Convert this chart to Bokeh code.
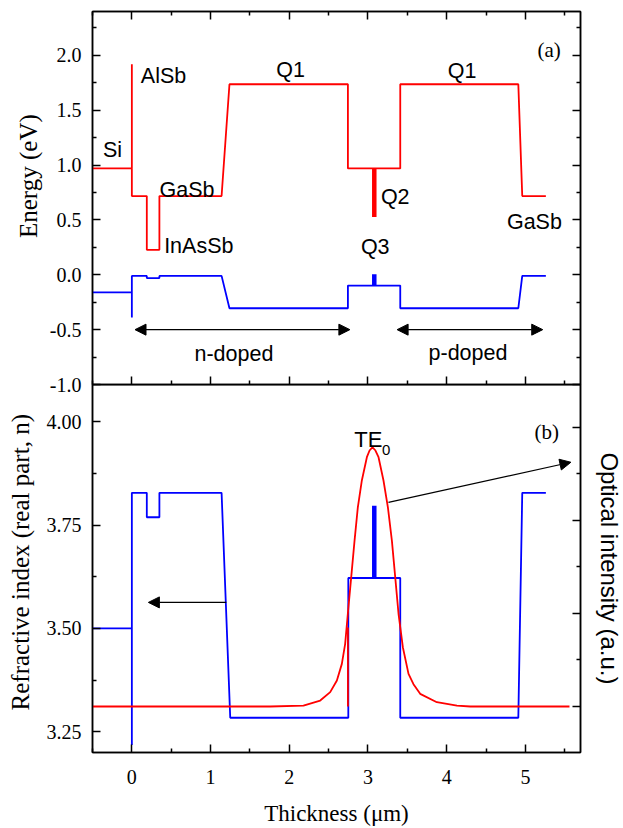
from bokeh.plotting import figure
from bokeh.layouts import column
from bokeh.models import (Range1d, LinearAxis, FixedTicker, PrintfTickFormatter,
                          Arrow, NormalHead, CustomLabelingPolicy)
from bokeh.core.properties import value
from bokeh.embed import file_html
from bokeh.resources import INLINE

# ---------------- data ----------------
# (a) band diagram: conduction band (red) and valence band (blue), thickness in um
band_x = [-0.5, 0.0, 0.0, 0.0, 0.19, 0.19, 0.35, 0.35, 1.14, 1.24, 2.745, 2.745, 3.41, 3.41, 4.91, 4.96, 5.26]
cb_E = [0.97, 0.97, 1.92, 0.718, 0.718, 0.228, 0.228, 0.718, 0.718, 1.737, 1.737, 0.97, 0.97, 1.737, 1.737, 0.718, 0.718]
vb_E = [-0.16, -0.16, -0.39, -0.01, -0.01, -0.03, -0.03, -0.01, -0.01, -0.305, -0.305, -0.098, -0.098, -0.305, -0.305, -0.01, -0.01]
q_x = [3.08, 3.08]
q2_E = [0.97, 0.527]
q3_E = [-0.098, 0.005]

# (b) refractive index (blue) and TE0 optical intensity (red)
n_x = [-0.5, 0.0, 0.0, 0.0, 0.19, 0.19, 0.35, 0.35, 1.14, 1.25, 2.75, 2.75, 3.41, 3.41, 4.91, 4.96, 5.26]
n_val = [3.50, 3.50, 3.218, 3.828, 3.828, 3.769, 3.769, 3.828, 3.828, 3.284, 3.284, 3.622, 3.622, 3.284, 3.284, 3.828, 3.828]
nq_x = [3.08, 3.08]
nq_val = [3.622, 3.797]
mode_x = [-0.5, 1.757, 2.18, 2.393, 2.52, 2.605, 2.668, 2.71, 2.744, 2.787, 2.829, 2.871, 2.922,
          2.986, 3.02, 3.057, 3.095, 3.134, 3.197, 3.253, 3.304, 3.346, 3.388, 3.443, 3.515,
          3.578, 3.663, 3.875, 4.13, 4.30, 5.56]
mode_I = [0.0, 0.0, 0.01, 0.064, 0.154, 0.279, 0.458, 0.673, 0.996, 1.39, 1.78, 2.14, 2.428,
          2.678, 2.75, 2.785, 2.75, 2.678, 2.428, 2.14, 1.78, 1.39, 0.996, 0.637, 0.351,
          0.24, 0.136, 0.046, 0.01, 0.0, 0.0]
mode_edge_x = [2.745, 2.745]
mode_edge_I = [0.0, 0.85]

# ticks
x_major = [0, 1, 2, 3, 4, 5]
x_minor = [-0.5, 0.5, 1.5, 2.5, 3.5, 4.5, 5.5]
e_major = [-1.0, -0.5, 0.0, 0.5, 1.0, 1.5, 2.0]
e_minor = [-0.75, -0.25, 0.25, 0.75, 1.25, 1.75, 2.25]
n_major = [3.25, 3.50, 3.75, 4.00]
n_minor = [3.375, 3.625, 3.875]
i_major = [0, 1, 2, 3]
i_minor = [-0.5, 0.5, 1.5, 2.5]

# text labels
a_labels = ["Si", "AlSb", "GaSb", "InAsSb", "Q1", "Q1", "Q2", "Q3", "GaSb", "n-doped", "p-doped"]
a_lx = [-0.368, 0.114, 0.351, 0.41, 1.834, 4.015, 3.164, 2.91, 4.765, 0.795, 3.769]
a_ly = [1.136, 1.815, 0.771, 0.259, 1.868, 1.858, 0.71, 0.252, 0.481, -0.722, -0.717]

SERIF = "Liberation Serif"
SANS = "Liberation Sans"
RED = "#ff0000"
BLUE = "#0000ff"
NB = "\u00a0"

NO_LABELS = CustomLabelingPolicy(code="""
try { for (let i = 0; i < indices.size; i++) { indices.unset(i) } } catch (e) {}
return indices
""")


def style_axis(ax, ticks, minor, labels=True, fmt=None):
    ax.ticker = FixedTicker(ticks=ticks, minor_ticks=minor)
    ax.major_tick_in = 8
    ax.major_tick_out = 0
    ax.minor_tick_in = 4
    ax.minor_tick_out = 0
    ax.axis_line_width = 1.5
    ax.major_tick_line_width = 1.5
    ax.minor_tick_line_width = 1.5
    ax.axis_line_color = "black"
    ax.major_tick_line_color = "black"
    ax.minor_tick_line_color = "black"
    ax.axis_label_text_font_style = "normal"
    ax.axis_label_text_color = "black"
    if labels:
        ax.major_label_text_font = SERIF
        ax.major_label_text_font_size = "20px"
        ax.major_label_text_color = "black"
        ax.major_label_standoff = 11
        if fmt:
            ax.formatter = PrintfTickFormatter(format=fmt)
    else:
        ax.major_label_policy = NO_LABELS
        ax.major_label_text_font_size = "1px"
        ax.major_label_standoff = 0


# ---------------- panel (a) ----------------
p1 = figure(frame_width=488, frame_height=373, x_range=Range1d(-0.5, 5.7),
            y_range=Range1d(-1.0, 2.4), output_backend="svg", toolbar_location=None,
            min_border_left=92, min_border_right=43, min_border_top=11, min_border_bottom=10)
p1.xgrid.visible = False
p1.ygrid.visible = False
p1.outline_line_color = "black"
p1.outline_line_width = 1.5
p1.border_fill_alpha = 0
p1.background_fill_alpha = 0
style_axis(p1.xaxis[0], x_major, x_minor, labels=False)
style_axis(p1.yaxis[0], e_major, e_minor, labels=True, fmt="%.1f")
p1.yaxis[0].axis_label = NB * 7 + "Energy (eV)"
p1.yaxis[0].axis_label_text_font = SERIF
p1.yaxis[0].axis_label_text_font_size = "25px"
p1.yaxis[0].axis_label_standoff = 5
ax_top = LinearAxis()
style_axis(ax_top, x_major, x_minor, labels=False)
p1.add_layout(ax_top, "above")
ax_r1 = LinearAxis()
style_axis(ax_r1, e_major, e_minor, labels=False)
p1.add_layout(ax_r1, "right")

p1.line(band_x, cb_E, line_color=RED, line_width=1.8)
p1.line(band_x, vb_E, line_color=BLUE, line_width=1.8)
p1.line(q_x, q2_E, line_color=RED, line_width=4.5)
p1.line(q_x, q3_E, line_color=BLUE, line_width=4.5)

p1.text(x=a_lx, y=a_ly, text=a_labels, text_font=value(SANS), text_font_size=value("21.5px"),
        text_align="left", text_baseline="alphabetic", text_color="black")
p1.text(x=[5.154], y=[2.05], text=["(a)"], text_font=value(SERIF), text_font_size=value("21px"),
        text_align="left", text_baseline="alphabetic", text_color="black")

for xs, xe in [(0.04, 2.77), (3.37, 5.22)]:
    p1.add_layout(Arrow(x_start=xs, y_start=-0.5, x_end=xe, y_end=-0.5, line_width=1.2,
                        line_color="black",
                        start=NormalHead(size=11, fill_color="black", line_color="black", line_width=1),
                        end=NormalHead(size=11, fill_color="black", line_color="black", line_width=1)))

# ---------------- panel (b) ----------------
p2 = figure(frame_width=488, frame_height=368, x_range=p1.x_range,
            y_range=Range1d(3.20, 4.09), output_backend="svg", toolbar_location=None,
            min_border_left=92, min_border_right=43, min_border_top=0, min_border_bottom=76)
p2.margin = (-10, 0, 0, 0)
p2.extra_y_ranges = {"I": Range1d(-0.494, 3.459)}
p2.xgrid.visible = False
p2.ygrid.visible = False
p2.outline_line_color = "black"
p2.outline_line_width = 1.5
p2.border_fill_alpha = 0
p2.background_fill_alpha = 0
style_axis(p2.xaxis[0], x_major, x_minor, labels=True, fmt="%d")
p2.xaxis[0].major_label_standoff = 17
p2.xaxis[0].axis_label = "Thickness (\u03bcm)"
p2.xaxis[0].axis_label_text_font = SERIF
p2.xaxis[0].axis_label_text_font_size = "23px"
p2.xaxis[0].axis_label_standoff = 14
style_axis(p2.yaxis[0], n_major, n_minor, labels=True, fmt="%.2f")
p2.yaxis[0].axis_label = NB * 2 + "Refractive index (real part, n)"
p2.yaxis[0].axis_label_text_font = SERIF
p2.yaxis[0].axis_label_text_font_size = "25px"
p2.yaxis[0].axis_label_standoff = 10
ax_r2 = LinearAxis(y_range_name="I", axis_label="Optical intensity (a.u.)")
style_axis(ax_r2, i_major, i_minor, labels=False)
ax_r2.axis_label_text_font = SANS
ax_r2.axis_label_text_font_size = "24px"
ax_r2.axis_label_standoff = 12
p2.add_layout(ax_r2, "right")

p2.line(n_x, n_val, line_color=BLUE, line_width=1.8)
p2.line(nq_x, nq_val, line_color=BLUE, line_width=4.5)
p2.line(mode_x, mode_I, line_color=RED, line_width=1.8, y_range_name="I")
p2.line(mode_edge_x, mode_edge_I, line_color=RED, line_width=1.8, y_range_name="I")

p2.text(x=[2.825], y=[3.958], text=["TE"], text_font=value(SANS), text_font_size=value("22px"),
        text_align="left", text_baseline="alphabetic", text_color="black")
p2.text(x=[3.177], y=[3.932], text=["0"], text_font=value(SANS), text_font_size=value("15px"),
        text_align="left", text_baseline="alphabetic", text_color="black")
p2.text(x=[5.116], y=[3.974], text=["(b)"], text_font=value(SERIF), text_font_size=value("21px"),
        text_align="left", text_baseline="alphabetic", text_color="black")

p2.add_layout(Arrow(x_start=1.20, y_start=3.563, x_end=0.21, y_end=3.563, line_width=1.2,
                    line_color="black",
                    end=NormalHead(size=11, fill_color="black", line_color="black", line_width=1)))
p2.add_layout(Arrow(x_start=3.26, y_start=3.805, x_end=5.578, y_end=3.902, line_width=1.2,
                    line_color="black",
                    end=NormalHead(size=11, fill_color="black", line_color="black", line_width=1)))

layout = column(p1, p2)
open("out.html", "w").write(file_html(layout, INLINE))
